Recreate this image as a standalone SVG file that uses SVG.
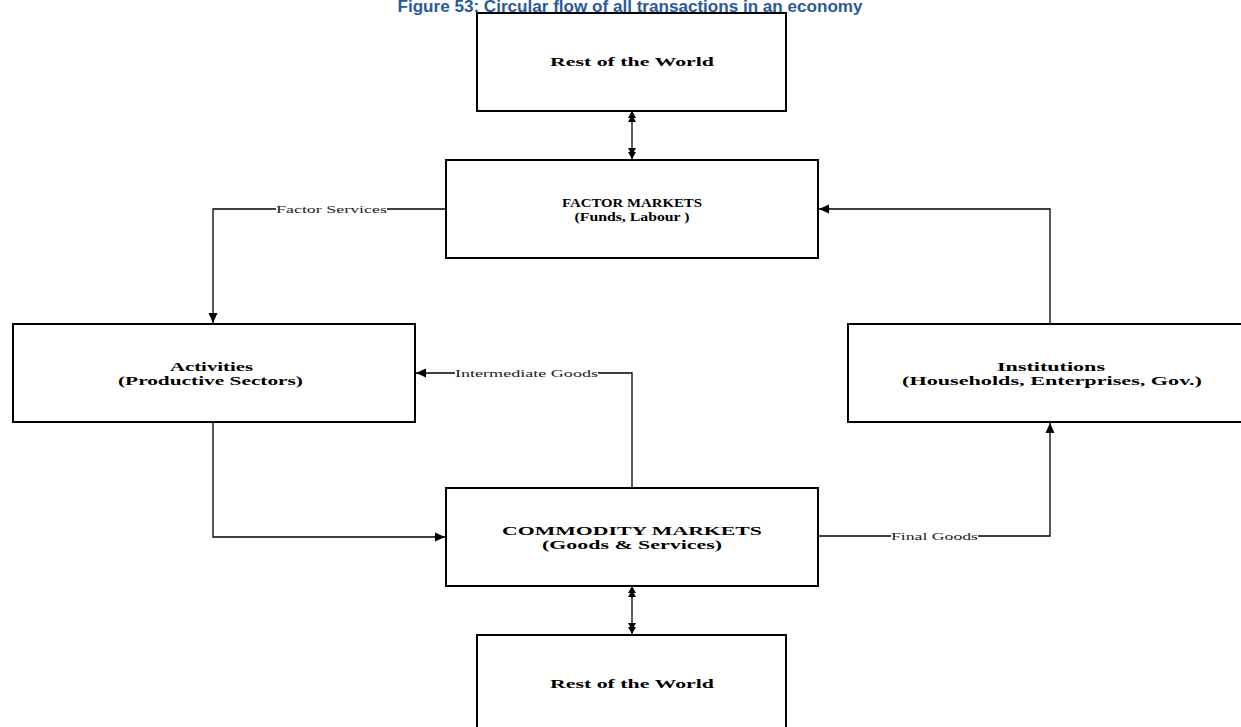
<svg xmlns="http://www.w3.org/2000/svg" width="1241" height="727" viewBox="0 0 1241 727">
  <style>
    .box { fill: #ffffff; stroke: #000000; stroke-width: 2; }
    .wire { fill: none; stroke: #000000; stroke-width: 1.3; }
    .name { font-family: "Liberation Serif", "Times New Roman", serif; font-weight: bold; font-size: 12px; fill: #000000; text-anchor: middle; }
    .flow { font-family: "Liberation Serif", "Times New Roman", serif; font-size: 11px; fill: #222222; text-anchor: middle; }
    .title { font-family: "Liberation Sans", Arial, sans-serif; font-weight: bold; font-size: 16px; fill: #2a5a98; text-anchor: middle; }
  </style>
  <defs>
    <marker id="head" markerWidth="12" markerHeight="12" refX="10" refY="6" orient="auto" markerUnits="userSpaceOnUse">
      <path d="M0,1.5 L10,6 L0,10.5 Z" fill="#000000"/>
    </marker>
    <marker id="dhead" markerWidth="12" markerHeight="10" refX="11" refY="5" orient="auto" markerUnits="userSpaceOnUse">
      <path d="M0,1 L7,5 L0,9 Z M4,1 L11,5 L4,9 Z" fill="#000000"/>
    </marker>
    <marker id="dtail" markerWidth="12" markerHeight="10" refX="1" refY="5" orient="auto" markerUnits="userSpaceOnUse">
      <path d="M11,1 L4,5 L11,9 Z M7,1 L0,5 L7,9 Z" fill="#000000"/>
    </marker>
  </defs>

  <rect width="1241" height="727" fill="#ffffff"/>

  <text class="title" x="630" y="12" textLength="465" lengthAdjust="spacingAndGlyphs">Figure 53: Circular flow of all transactions in an economy</text>

  <!-- flows between the markets and the sectors -->
  <g id="connectors">
    <line class="wire" x1="632" y1="112" x2="632" y2="159" marker-start="url(#dtail)" marker-end="url(#dhead)"/>
    <line class="wire" x1="632" y1="587" x2="632" y2="634" marker-start="url(#dtail)" marker-end="url(#dhead)"/>

    <polyline class="wire" points="446,209 387,209"/>
    <polyline class="wire" points="276,209 213,209 213,323" marker-end="url(#head)"/>
    <text class="flow" x="331.5" y="212.5" textLength="111" lengthAdjust="spacingAndGlyphs">Factor Services</text>

    <polyline class="wire" points="632,487 632,373 598,373"/>
    <polyline class="wire" points="455,373 416,373" marker-end="url(#head)"/>
    <text class="flow" x="526.5" y="377" textLength="143" lengthAdjust="spacingAndGlyphs">Intermediate Goods</text>

    <polyline class="wire" points="213,423 213,537 445,537" marker-end="url(#head)"/>

    <polyline class="wire" points="819,536 891,536"/>
    <polyline class="wire" points="978,536 1050,536 1050,423" marker-end="url(#head)"/>
    <text class="flow" x="934.5" y="540" textLength="87" lengthAdjust="spacingAndGlyphs">Final Goods</text>

    <polyline class="wire" points="1050,324 1050,209 819,209" marker-end="url(#head)"/>
  </g>

  <g id="row-top">
    <rect class="box" x="477" y="13" width="309" height="98"/>
    <text class="name" x="632" y="66" textLength="164" lengthAdjust="spacingAndGlyphs">Rest of the World</text>
  </g>

  <g id="factor-markets">
    <rect class="box" x="446" y="160" width="372" height="98"/>
    <text class="name" x="632" y="207" textLength="140" lengthAdjust="spacingAndGlyphs">FACTOR MARKETS</text>
    <text class="name" x="632" y="221" textLength="115" lengthAdjust="spacingAndGlyphs">(Funds, Labour )</text>
  </g>

  <g id="activities">
    <rect class="box" x="13" y="324" width="402" height="98"/>
    <text class="name" x="211.5" y="371" textLength="83" lengthAdjust="spacingAndGlyphs">Activities</text>
    <text class="name" x="210.5" y="385" textLength="185" lengthAdjust="spacingAndGlyphs">(Productive Sectors)</text>
  </g>

  <g id="institutions">
    <rect class="box" x="848" y="324" width="394" height="98"/>
    <text class="name" x="1051" y="371" textLength="108" lengthAdjust="spacingAndGlyphs">Institutions</text>
    <text class="name" x="1052" y="385" textLength="300" lengthAdjust="spacingAndGlyphs">(Households, Enterprises, Gov.)</text>
  </g>

  <g id="commodity-markets">
    <rect class="box" x="446" y="488" width="372" height="98"/>
    <text class="name" x="632" y="535" textLength="260" lengthAdjust="spacingAndGlyphs">COMMODITY MARKETS</text>
    <text class="name" x="632" y="549" textLength="180" lengthAdjust="spacingAndGlyphs">(Goods &amp; Services)</text>
  </g>

  <g id="row-bottom">
    <rect class="box" x="477" y="635" width="309" height="98"/>
    <text class="name" x="632" y="688" textLength="164" lengthAdjust="spacingAndGlyphs">Rest of the World</text>
  </g>
</svg>
